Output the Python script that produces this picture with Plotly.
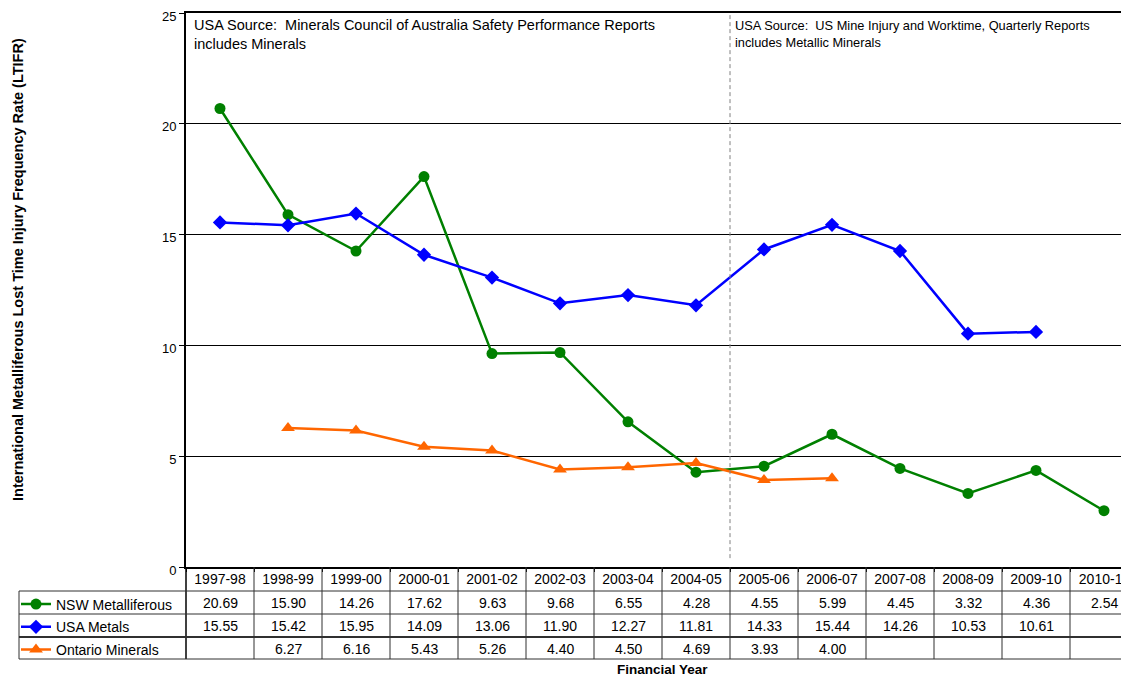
import plotly.graph_objects as go

years = ['1997-98', '1998-99', '1999-00', '2000-01', '2001-02', '2002-03', '2003-04',
         '2004-05', '2005-06', '2006-07', '2007-08', '2008-09', '2009-10', '2010-11']
nsw = [20.69, 15.90, 14.26, 17.62, 9.63, 9.68, 6.55, 4.28, 4.55, 5.99, 4.45, 3.32, 4.36, 2.54]
usa = [15.55, 15.42, 15.95, 14.09, 13.06, 11.90, 12.27, 11.81, 14.33, 15.44, 14.26, 10.53, 10.61, None]
ontario = [None, 6.27, 6.16, 5.43, 5.26, 4.40, 4.50, 4.69, 3.93, 4.00, None, None, None, None]

series = [
    ('NSW Metalliferous', nsw, '#008000', 'circle', 11),
    ('USA Metals', usa, '#0000FF', 'diamond', 11),
    ('Ontario Minerals', ontario, '#FF6600', 'triangle-up', 12),
]

# the page body has an 8px margin, so the figure starts at (8, 8) in the window
OFF = 8
W, H = 1129 - OFF, 677 - OFF
FONT = 'Arial, Liberation Sans, sans-serif'

def px_x(p):
    return (p - OFF) / W

def px_y(p):
    return (H - (p - OFF)) / H

fig = go.Figure()
for i, (name, vals, col, sym, sz) in enumerate(series):
    fig.add_trace(go.Scatter(
        x=years, y=vals, name=name, mode='lines+markers',
        line=dict(color=col, width=2.5),
        marker=dict(symbol=sym, size=sz, color=col),
        legendgroup=f'g{i}', connectgaps=False,
    ))

shapes = []
line_col = '#303030'
# vertical column lines of the data table
for i in range(1, len(years) + 1):
    shapes.append(dict(type='line', xref='x', yref='paper', x0=i - 0.5, x1=i - 0.5,
                       y0=px_y(567), y1=px_y(659), line=dict(color=line_col, width=1)))
# left table edges
shapes.append(dict(type='line', xref='paper', yref='paper', x0=px_x(186), x1=px_x(186),
                   y0=px_y(567), y1=px_y(659), line=dict(color='black', width=1.5)))
shapes.append(dict(type='line', xref='paper', yref='paper', x0=px_x(19), x1=px_x(19),
                   y0=px_y(591), y1=px_y(659), line=dict(color=line_col, width=1)))
# horizontal row lines
for yp, w in [(591, 1), (614, 1), (637, 2), (659, 1)]:
    shapes.append(dict(type='line', xref='paper', yref='paper', x0=px_x(19), x1=1,
                       y0=px_y(yp), y1=px_y(yp), line=dict(color=line_col, width=w)))
# dashed source separator
shapes.append(dict(type='line', xref='x', yref='y', x0=7.5, x1=7.5, y0=0.4, y1=25,
                   line=dict(color='#808080', width=1, dash='4px,3px')))

annotations = []
row_y = [603, 626, 649]
for (name, vals, col, sym, sz), ry in zip(series, row_y):
    for yr, v in zip(years, vals):
        if v is None:
            continue
        annotations.append(dict(xref='x', yref='paper', x=yr, y=px_y(ry), text=f'{v:.2f}',
                                showarrow=False, font=dict(size=14, color='black', family=FONT),
                                xanchor='center', yanchor='middle'))

annotations.append(dict(xref='paper', yref='paper', x=px_x(192), y=px_y(15),
                        text='USA Source:  Minerals Council of Australia Safety Performance Reports<br>includes Minerals',
                        showarrow=False, xanchor='left', yanchor='top', align='left',
                        font=dict(size=14.5, color='black', family=FONT)))
annotations.append(dict(xref='paper', yref='paper', x=px_x(733), y=px_y(16),
                        text='USA Source:  US Mine Injury and Worktime, Quarterly Reports<br>includes Metallic Minerals',
                        showarrow=False, xanchor='left', yanchor='top', align='left',
                        font=dict(size=12.8, color='black', family=FONT)))
annotations.append(dict(xref='x', yref='paper', x=6.5, y=px_y(669), text='<b>Financial Year</b>',
                        showarrow=False, xanchor='center', yanchor='middle',
                        font=dict(size=13.5, color='black', family=FONT)))
annotations.append(dict(xref='paper', yref='paper', x=px_x(18), y=px_y(270),
                        text='<b>International Metalliferous Lost Time Injury Frequency Rate (LTIFR)</b>',
                        textangle=-90, showarrow=False, xanchor='center', yanchor='middle',
                        font=dict(size=14.5, color='black', family=FONT)))

col_w = 68.0
x_right = -0.5 + (1129 - 186) / col_w

fig.update_layout(
    template='none',
    width=W, height=H,
    margin=dict(l=0, r=0, t=0, b=0, pad=0, autoexpand=False),
    paper_bgcolor='white', plot_bgcolor='white',
    font=dict(family=FONT, size=14, color='black'),
    showlegend=True,
    legend=dict(x=px_x(16), y=px_y(588.5), xanchor='left', yanchor='top',
                traceorder='grouped', tracegroupgap=1.5, bgcolor='rgba(0,0,0,0)',
                borderwidth=0,
                font=dict(size=14, family=FONT, color='black'), itemwidth=30),
    xaxis=dict(domain=[px_x(186), 1], type='category', categoryorder='array', categoryarray=years,
               range=[-0.5, x_right], showline=True, linecolor='black', linewidth=2,
               mirror=True, ticks='outside', tickson='boundaries', ticklen=3,
               tickcolor='black', showgrid=False, zeroline=False, automargin=False,
               ticklabelstandoff=-2, ticklabeloverflow='allow',
               tickfont=dict(size=14, color='black', family=FONT)),
    yaxis=dict(domain=[px_y(567), px_y(13)], range=[0, 25], dtick=5, tick0=0,
               showline=True, linecolor='black', linewidth=2, mirror=True,
               ticks='outside', ticklen=5, tickcolor='black', automargin=False,
               ticklabeloverflow='allow', ticklabelshift=3,
               showgrid=True, gridcolor='black', gridwidth=1, zeroline=False,
               tickfont=dict(size=13, color='black', family=FONT)),
    shapes=shapes, annotations=annotations,
)

fig.write_html('out.html')
